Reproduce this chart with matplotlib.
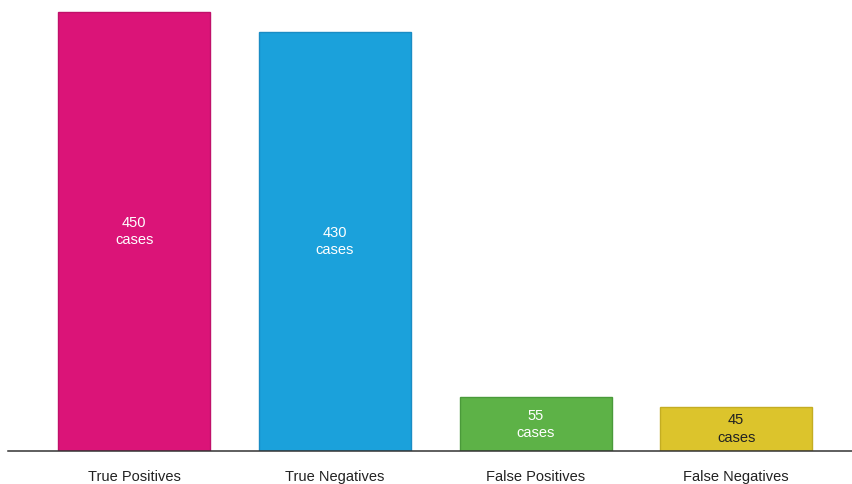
import matplotlib
matplotlib.use("Agg")
import matplotlib.pyplot as plt

categories = ["True Positives", "True Negatives", "False Positives", "False Negatives"]
values = [450, 430, 55, 45]
unit = "cases"
colors = ["#DB1478", "#1BA1DB", "#5DB247", "#DCC42C"]
edge_colors = ["#C0106A", "#1A8CC4", "#4A9A3A", "#C4AD22"]
text_colors = ["white", "white", "white", "#222222"]

plt.rcParams['font.family'] = ['Liberation Sans', 'DejaVu Sans']

fig = plt.figure(figsize=(8.53, 4.84), dpi=100)
ax = fig.add_axes([0, 33/484, 1, 451/484])

x = list(range(len(categories)))
ax.bar(x, values, width=0.757, color=colors, edgecolor=edge_colors, linewidth=1, zorder=2)

for xi, v, tc in zip(x, values, text_colors):
    ax.text(xi, v / 2, f"{v}\n{unit}", ha="center", va="center", color=tc,
            fontsize=10.5, linespacing=1.3, zorder=3)

ax.set_xlim(-0.669, 3.582)
ax.set_ylim(0, 450 * 451 / 439)
ax.set_xticks(x)
ax.set_xticklabels(categories, fontsize=10.5, color="#222222")
ax.tick_params(axis="x", length=0, pad=13.5)
ax.set_yticks([])
for s in ["top", "right", "left"]:
    ax.spines[s].set_visible(False)
ax.spines["bottom"].set_color("#333333")
ax.spines["bottom"].set_linewidth(1.1)
ax.spines["bottom"].set_bounds(-0.629, 3.582)

fig.savefig("out.png", dpi=100)
